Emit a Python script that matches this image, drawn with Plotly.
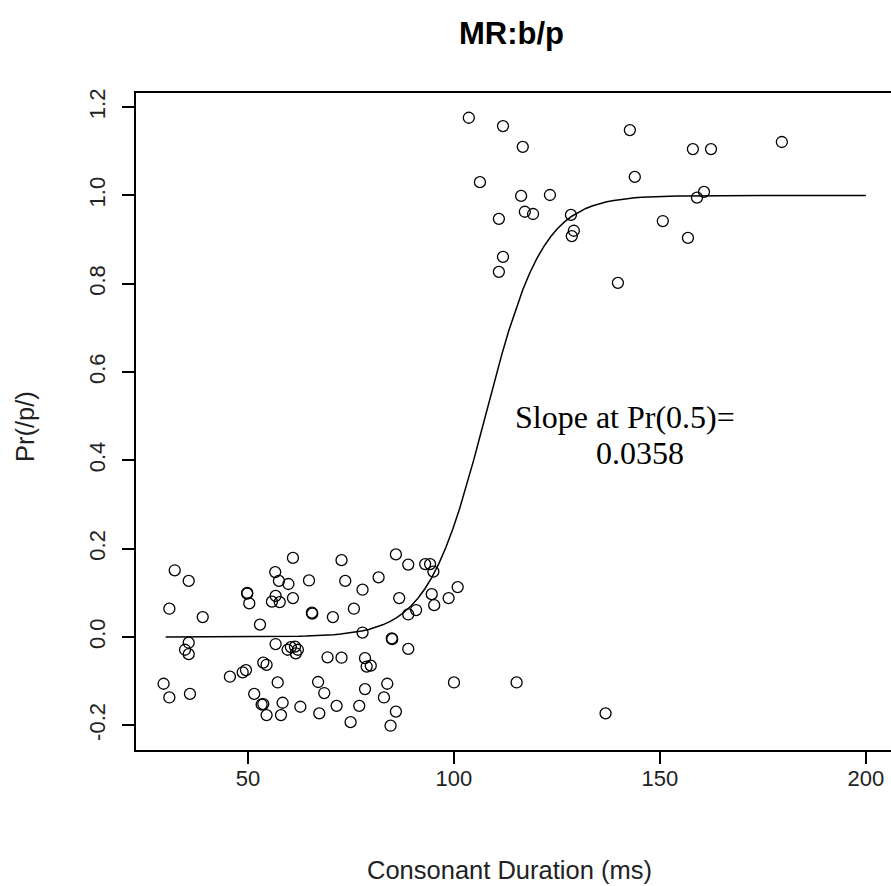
import numpy as np
import plotly.graph_objects as go

# ---- data ----
duration_ms = [
    32.2, 35.6, 30.9, 39.0, 35.6, 34.7, 35.6, 29.5, 30.9, 35.9,
    60.9, 56.6, 57.5, 59.8, 64.8, 49.8, 49.8, 50.3, 56.7, 55.8,
    57.7, 60.9, 65.5, 65.6, 70.6, 52.9, 56.7, 59.6, 60.4, 61.4,
    62.1, 61.6, 69.3, 53.7, 54.5, 45.6, 48.7, 49.5, 57.2, 51.5,
    53.3, 53.7, 58.4, 54.5, 58.0, 62.7, 67.0, 68.5, 67.3, 72.7,
    85.9, 88.9, 93.0, 94.2, 95.0, 73.6, 77.8, 81.7, 75.7, 86.7,
    94.6, 95.2, 98.7, 100.9, 88.9, 90.8, 77.8, 84.9, 85.0, 88.9,
    72.7, 78.4, 78.8, 79.8, 78.4, 83.8, 83.0, 71.5, 77.0, 85.9,
    74.9, 84.6, 100.0, 115.2, 136.8,
    103.6, 111.9, 116.7, 106.3, 116.3, 123.3, 117.2, 119.2, 110.9, 128.4,
    129.1, 128.6, 111.9, 110.9, 142.7, 143.9, 139.8, 158.0, 162.4, 179.6,
    160.7, 159.0, 150.7, 156.8,
]
pr_p = [
    0.151, 0.127, 0.064, 0.045, -0.013, -0.029, -0.039, -0.106, -0.137, -0.129,
    0.179, 0.147, 0.127, 0.120, 0.128, 0.100, 0.098, 0.076, 0.093, 0.080,
    0.079, 0.088, 0.055, 0.053, 0.045, 0.028, -0.016, -0.029, -0.023, -0.022,
    -0.029, -0.037, -0.046, -0.058, -0.063, -0.090, -0.080, -0.075, -0.103, -0.129,
    -0.153, -0.152, -0.149, -0.177, -0.177, -0.158, -0.102, -0.127, -0.173, 0.174,
    0.187, 0.164, 0.165, 0.165, 0.148, 0.127, 0.107, 0.135, 0.064, 0.088,
    0.097, 0.072, 0.088, 0.113, 0.051, 0.061, 0.010, -0.003, -0.005, -0.027,
    -0.047, -0.048, -0.067, -0.065, -0.118, -0.106, -0.137, -0.156, -0.156, -0.169,
    -0.193, -0.201, -0.103, -0.103, -0.173,
    1.176, 1.157, 1.110, 1.030, 0.999, 1.001, 0.963, 0.958, 0.947, 0.956,
    0.920, 0.908, 0.861, 0.827, 1.148, 1.042, 0.802, 1.105, 1.105, 1.121,
    1.008, 0.995, 0.942, 0.904,
]

# fitted logistic model shown in the chart
slope_at_half = 0.0358          # slope of the curve at Pr = 0.5
midpoint_ms = 107.6             # duration where Pr = 0.5
curve_x_range = [30, 200]

x_ticks = [50, 100, 150, 200]
x_tick_labels = ["50", "100", "150", "200"]
y_ticks = [-0.2, 0.0, 0.2, 0.4, 0.6, 0.8, 1.0, 1.2]
y_tick_labels = ["-0.2", "0.0", "0.2", "0.4", "0.6", "0.8", "1.0", "1.2"]

title_text = "<b>MR:b/p</b>"
x_title = "Consonant Duration (ms)"
y_title = "Pr(/p/)"
note_line1 = "Slope at Pr(0.5)="
note_line2 = "0.0358"

# ---- figure ----
k = 4 * slope_at_half
cx = np.linspace(curve_x_range[0], curve_x_range[1], 101)
cy = 1.0 / (1.0 + np.exp(-k * (cx - midpoint_ms)))

SANS = "Liberation Sans"
SERIF = "Liberation Serif"

fig = go.Figure()
fig.add_trace(go.Scatter(
    x=duration_ms, y=pr_p, mode="markers",
    marker=dict(symbol="circle-open", size=11, color="black",
                line=dict(color="black", width=1.3)),
    showlegend=False, hoverinfo="skip",
))
fig.add_trace(go.Scatter(
    x=cx, y=cy, mode="lines",
    line=dict(color="black", width=1.5),
    showlegend=False, hoverinfo="skip",
))

axis_common = dict(
    showgrid=False, zeroline=False, showline=True,
    linecolor="black", linewidth=1.5,
    ticks="outside", ticklen=12, tickwidth=1.5, tickcolor="black",
    tickfont=dict(family=SANS, size=22, color="#222"),
)

fig.update_layout(
    width=891, height=886,
    margin=dict(l=136, r=0, t=93, b=136),
    paper_bgcolor="white", plot_bgcolor="white",
    xaxis=dict(range=[22.8, 206.1], tickmode="array",
               tickvals=x_ticks, ticktext=x_tick_labels, mirror=True,
               ticklabelstandoff=-4, **axis_common),
    yaxis=dict(range=[-0.256, 1.232], tickmode="array",
               tickvals=y_ticks, ticktext=y_tick_labels, mirror=False,
               tickangle=-90, ticklabelstandoff=8, **axis_common),
    annotations=[
        dict(text=title_text, xref="paper", yref="paper", x=0.4967, y=1.0913,
             xanchor="center", yanchor="middle", showarrow=False,
             font=dict(family=SANS, size=31, color="black")),
        dict(text=x_title, xref="paper", yref="paper", x=0.495, y=-0.1826,
             xanchor="center", yanchor="middle", showarrow=False,
             font=dict(family=SANS, size=25.5, color="#222")),
        dict(text=y_title, xref="paper", yref="paper", x=-0.147, y=0.4916,
             xanchor="center", yanchor="middle", showarrow=False, textangle=-90,
             font=dict(family=SANS, size=25.5, color="#222")),
        dict(text=note_line1, xref="x", yref="y", x=141.5, y=0.498,
             xanchor="center", yanchor="middle", showarrow=False,
             font=dict(family=SERIF, size=32, color="black")),
        dict(text=note_line2, xref="x", yref="y", x=145.1, y=0.417,
             xanchor="center", yanchor="middle", showarrow=False,
             font=dict(family=SERIF, size=32, color="black")),
    ],
)

fig.write_html("out.html")
